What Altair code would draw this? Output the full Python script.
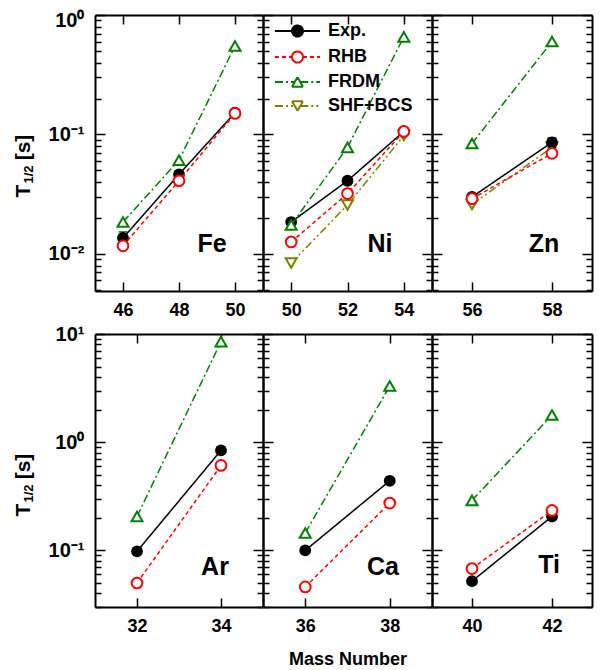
import math
import altair as alt
import pandas as pd

FONT = "Liberation Sans"

# ---------------- data (half-lives in seconds) ----------------
FE_A = [46, 48, 50]
FE_EXP = [0.0136, 0.0464, 0.152]
FE_EXP_ERR = [0.0017, 0.0, 0.0]
FE_RHB = [0.0117, 0.041, 0.150]
FE_FRDM = [0.0185, 0.061, 0.55]

NI_A = [50, 52, 54]
NI_EXP = [0.0185, 0.041, 0.106]
NI_EXP_ERR = [0.0, 0.0, 0.0]
NI_RHB = [0.0126, 0.032, 0.106]
NI_FRDM = [0.0175, 0.078, 0.656]
NI_SHF = [0.0084, 0.0257, 0.098]

ZN_A = [56, 58]
ZN_EXP = [0.030, 0.086]
ZN_EXP_ERR = [0.0, 0.008]
ZN_RHB = [0.029, 0.0695]
ZN_FRDM = [0.084, 0.60]
ZN_SHF = [0.026, 0.078]

AR_A = [32, 34]
AR_EXP = [0.098, 0.84]
AR_RHB = [0.050, 0.61]
AR_FRDM = [0.206, 8.5]

CA_A = [36, 38]
CA_EXP = [0.100, 0.44]
CA_RHB = [0.046, 0.274]
CA_FRDM = [0.145, 3.3]

TI_A = [40, 42]
TI_EXP = [0.052, 0.206]
TI_RHB = [0.068, 0.234]
TI_FRDM = [0.29, 1.78]

SERIES = ["Exp.", "RHB", "FRDM", "SHF+BCS"]

# ---------------- styles ----------------
COLORS = {"Exp.": "#000000", "RHB": "#ff0000", "FRDM": "#008000", "SHF+BCS": "#808000"}
DASHES = {"Exp.": [1, 0], "RHB": [4, 3], "FRDM": [8, 3, 2, 3], "SHF+BCS": [8, 3, 2, 3, 2, 3]}
SHAPES = {"Exp.": "circle", "RHB": "circle", "FRDM": "triangle-up", "SHF+BCS": "triangle-down"}
FILLS = {"Exp.": "#000000", "RHB": "white", "FRDM": "white", "SHF+BCS": "white"}
SIZES = {"Exp.": 140, "RHB": 115, "FRDM": 121, "SHF+BCS": 121}
DRAW_ORDER = ["SHF+BCS", "Exp.", "FRDM", "RHB"]


def f(v):
    return f"{v:.3f}"


def seg(p0, p1):
    return f"M{f(p0[0])} {f(p0[1])}L{f(p1[0])} {f(p1[1])}"


LINE_HALF = 4.1


def legend_lines(inner):
    return seg((-LINE_HALF, 0), (-inner, 0)) + seg((inner, 0), (LINE_HALF, 0))


def split_circle(r=1.0, n=12):
    out = ""
    for k in range(n):
        a0 = 2 * math.pi * k / n
        a1 = 2 * math.pi * (k + 1) / n
        out += (f"M{f(r*math.cos(a0))} {f(r*math.sin(a0))}"
                f"A{f(r)} {f(r)} 0 0 1 {f(r*math.cos(a1))} {f(r*math.sin(a1))}")
    return out


def full_disk():
    out = ""
    for r in [1.0, 0.7, 0.4, 0.12]:
        out += f"M{f(r)} 0A{f(r)} {f(r)} 0 1 1 {f(-r)} 0A{f(r)} {f(r)} 0 1 1 {f(r)} 0Z"
    return out


def split_triangle(up=True):
    h = math.sqrt(3) / 2
    s = -1 if up else 1
    v = [(0, s * h), (1, -s * h), (-1, -s * h)]
    out = ""
    for i in range(3):
        a, b = v[i], v[(i + 1) % 3]
        m = ((a[0] + b[0]) / 2, (a[1] + b[1]) / 2)
        out += seg(a, m) + seg(m, b)
    return out


LEGEND_PATHS = [
    legend_lines(1.0) + full_disk(),
    legend_lines(1.0) + split_circle(),
    legend_lines(0.5) + split_triangle(True),
    legend_lines(0.5) + split_triangle(False),
]

MAJOR = "abs(log(datum.value)/LN10 - round(log(datum.value)/LN10)) < 0.001"
E = "round(log(datum.value)/LN10)"
LABEL_EXPR = (f"({MAJOR}) ? ({E} == -2 ? '10⁻²' : {E} == -1 ? '10⁻¹' : "
              f"{E} == 0 ? '10⁰' : '10¹') : ''")
TICK_DASH = {"condition": {"test": MAJOR, "value": [20, 0]}, "value": [6, 40]}


def log_ticks(lo_exp, hi_exp, start_mant):
    vals = []
    for e in range(lo_exp, hi_exp + 1):
        for m in range(1, 10):
            v = m * 10.0 ** e
            if e == lo_exp and m < start_mant:
                continue
            if e == hi_exp and m > 1:
                continue
            vals.append(round(v, 6))
    return vals


TOP_YDOM = [0.0049, 1.0]
TOP_YTICKS = log_ticks(-3, 0, 5)
BOT_YDOM = [0.03, 10.0]
BOT_YTICKS = log_ticks(-2, 1, 3)

AX = dict(domain=True, domainColor="black", domainWidth=2, grid=False, ticks=True,
          tickColor="black", tickWidth=1.5, labelFont=FONT, labelFontWeight="bold",
          labelColor="black", labelOverlap=False)


def make_panel(name, A, series_vals, err, xdom, ydom, yticks, width, height,
               first, xtitle, with_legend, label_xy, top_row):
    rows = []
    for s, vals in series_vals.items():
        for a, t in zip(A, vals):
            rows.append({"A": a, "series": s, "T": t})
    df = pd.DataFrame(rows)
    xvals = list(range(xdom[0] + 1, xdom[1], 2))
    xs = alt.Scale(domain=xdom, nice=False, zero=False)
    ys = alt.Scale(type="log", domain=ydom, nice=False)

    xb_kw = dict(orient="bottom", values=xvals, format="d", labelFontSize=18,
                 labelPadding=19, tickSize={"expr": "-9"}, **AX)
    if xtitle:
        xb_kw.update(title=xtitle, titleFont=FONT, titleFontSize=18, titleFontWeight="bold",
                     titleColor="black", titlePadding=15)
    else:
        xb_kw.update(title=None)
    x_bottom = alt.Axis(**xb_kw)
    x_top = alt.Axis(orient="top", values=xvals, labels=False, tickSize={"expr": "-9"},
                     title=None, **AX)
    yl_kw = dict(orient="left", values=yticks, labels=first, labelExpr=LABEL_EXPR,
                 labelFontSize=20, labelPadding=21, tickSize={"expr": "-10"},
                 tickDash=TICK_DASH, title=None, **AX)
    if top_row:
        yl_kw["labelOffset"] = {"condition": {"test": "datum.value >= 0.999", "value": 5},
                                "value": 0}
    y_left = alt.Axis(**yl_kw)
    y_right = alt.Axis(orient="right", values=yticks, labels=False, tickSize={"expr": "-10"},
                       tickDash=TICK_DASH, title=None, **AX)

    frame = alt.Chart(df).mark_point(opacity=0).encode(
        x=alt.X("A:Q", scale=xs, axis=x_top),
        y=alt.Y("T:Q", scale=ys, axis=y_right),
    )

    err_rows = [{"A": a, "lo": series_vals["Exp."][i] - e, "hi": series_vals["Exp."][i] + e}
                for i, (a, e) in enumerate(zip(A, err)) if e > 0]

    data_layers = []
    for s in DRAW_ORDER:
        if s not in series_vals:
            continue
        sub = df[df["series"] == s]
        enc = dict(x=alt.X("A:Q", scale=xs, axis=x_bottom),
                   y=alt.Y("T:Q", scale=ys, axis=y_left))
        data_layers.append(
            alt.Chart(sub).mark_line(color=COLORS[s], strokeDash=DASHES[s],
                                     strokeWidth=1.5).encode(**enc)
        )
        data_layers.append(
            alt.Chart(sub).mark_point(shape=SHAPES[s], filled=True, fill=FILLS[s],
                                      stroke=COLORS[s], strokeWidth=2 if s != "Exp." else 0,
                                      size=SIZES[s], opacity=1).encode(**enc)
        )
        if s == "Exp." and err_rows:
            data_layers.append(
                alt.Chart(pd.DataFrame(err_rows)).mark_errorbar(
                    ticks={"size": 9, "thickness": 1.5, "color": "black"},
                    thickness=1.5, color="black"
                ).encode(
                    x=alt.X("A:Q", scale=xs, axis=x_bottom),
                    y=alt.Y("lo:Q", scale=ys, axis=y_left),
                    y2="hi:Q",
                )
            )
    inner = alt.layer(*data_layers)

    extra = []
    extra.append(
        alt.Chart(pd.DataFrame({"label": [name]})).mark_text(
            font=FONT, fontSize=25, fontWeight="bold", color="black",
            align="center", baseline="middle"
        ).encode(text="label:N", x=alt.value(label_xy[0]), y=alt.value(label_xy[1]))
    )
    if first:
        for txt, fs, dx, dy in [("T", 21, -71, 176), ("1/2", 13, -66, 159.5), ("[s]", 21, -71, 132.5)]:
            extra.append(
                alt.Chart(pd.DataFrame({"t": [txt]})).mark_text(
                    font=FONT, fontSize=fs, fontWeight="bold", color="black",
                    angle=270, align="center", baseline="middle"
                ).encode(text="t:N", x=alt.value(dx), y=alt.value(dy))
            )
    if with_legend:
        leg = alt.Legend(title=None, orient="none", legendX=0, legendY=7,
                         symbolSize=121, symbolStrokeWidth=2, symbolOffset=25.5,
                         labelOffset=21.5, labelFont=FONT, labelFontSize=18,
                         labelFontWeight="bold", labelColor="black", rowPadding=6,
                         padding=0)
        extra.append(
            alt.Chart(pd.DataFrame({"series": SERIES})).transform_filter("false").mark_point(
                filled=False, opacity=1, strokeWidth=2, size=121
            ).encode(
                color=alt.Color("series:N", legend=leg,
                                scale=alt.Scale(domain=SERIES, range=[COLORS[s] for s in SERIES])),
                shape=alt.Shape("series:N", legend=leg,
                                scale=alt.Scale(domain=SERIES, range=LEGEND_PATHS)),
                strokeDash=alt.StrokeDash("series:N", legend=leg,
                                          scale=alt.Scale(domain=SERIES, range=[DASHES[s] for s in SERIES])),
            )
        )

    return alt.layer(frame, inner, *extra).resolve_axis(
        x="independent", y="independent"
    ).properties(width=width, height=height)


W = [168, 169, 160]
H_TOP, H_BOT = 276, 273

p_fe = make_panel("Fe", FE_A, {"Exp.": FE_EXP, "RHB": FE_RHB, "FRDM": FE_FRDM}, FE_EXP_ERR,
                  [45, 51], TOP_YDOM, TOP_YTICKS, W[0], H_TOP, True, None, False, (117, 229), True)
p_ni = make_panel("Ni", NI_A, {"Exp.": NI_EXP, "RHB": NI_RHB, "FRDM": NI_FRDM, "SHF+BCS": NI_SHF},
                  NI_EXP_ERR, [49, 55], TOP_YDOM, TOP_YTICKS, W[1], H_TOP, False, None, True, (117, 229), True)
p_zn = make_panel("Zn", ZN_A, {"Exp.": ZN_EXP, "RHB": ZN_RHB, "FRDM": ZN_FRDM, "SHF+BCS": ZN_SHF},
                  ZN_EXP_ERR, [55, 59], TOP_YDOM, TOP_YTICKS, W[2], H_TOP, False, None, False, (112, 229), True)

p_ar = make_panel("Ar", AR_A, {"Exp.": AR_EXP, "RHB": AR_RHB, "FRDM": AR_FRDM}, [0, 0],
                  [31, 35], BOT_YDOM, BOT_YTICKS, W[0], H_BOT, True, None, False, (120, 233), False)
p_ca = make_panel("Ca", CA_A, {"Exp.": CA_EXP, "RHB": CA_RHB, "FRDM": CA_FRDM}, [0, 0],
                  [35, 39], BOT_YDOM, BOT_YTICKS, W[1], H_BOT, False, "Mass Number", False, (120, 233), False)
p_ti = make_panel("Ti", TI_A, {"Exp.": TI_EXP, "RHB": TI_RHB, "FRDM": TI_FRDM}, [0, 0],
                  [39, 43], BOT_YDOM, BOT_YTICKS, W[2], H_BOT, False, None, False, (117, 231), False)

LEG_RES = dict(color="independent", shape="independent", strokeDash="independent")

chart = alt.concat(
    p_fe, p_ni, p_zn, p_ar, p_ca, p_ti,
    columns=3, spacing={"row": 43, "column": 0}, bounds="flush"
).resolve_legend(**LEG_RES).properties(
    padding={"left": 4, "top": 1, "right": 0, "bottom": 0}
).configure_view(stroke="black", strokeWidth=2).configure(font=FONT, background="white")

chart.save("out.html", embed_options={"renderer": "svg", "actions": False})
